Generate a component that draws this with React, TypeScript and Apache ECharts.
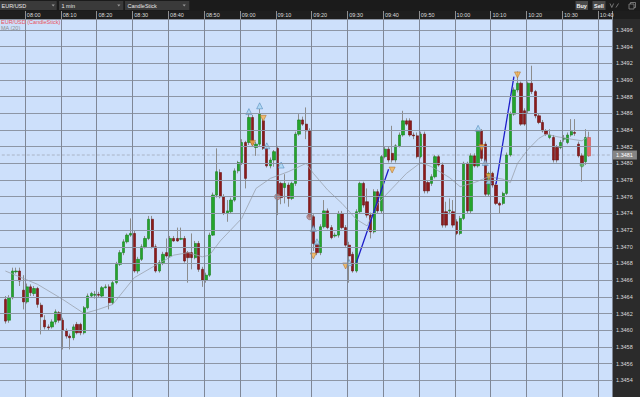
import React, { useEffect, useRef } from 'react';
import * as echarts from 'echarts';

// ---- data ----
const FIRST_CATEGORY = '07:53';
const LAST_CATEGORY = '10:43';
const FIRST_CANDLE = '07:54';
const TIME_TICKS = ['08:00', '08:10', '08:20', '08:30', '08:40', '08:50', '09:00', '09:10', '09:20', '09:30', '09:40', '09:50', '10:00', '10:10', '10:20', '10:30', '10:40'];

const OPEN = [
  1.34637, 1.34612, 1.34639, 1.34670, 1.34671, 1.34648, 1.34634, 1.34652, 1.34644, 1.34650,
  1.34630, 1.34612, 1.34604, 1.34604, 1.34610, 1.34621, 1.34612, 1.34599, 1.34593, 1.34591,
  1.34607, 1.34607, 1.34597, 1.34627, 1.34641, 1.34642, 1.34643, 1.34641, 1.34651, 1.34652,
  1.34633, 1.34657, 1.34679, 1.34693, 1.34706, 1.34714, 1.34716, 1.34671, 1.34685, 1.34700,
  1.34710, 1.34733, 1.34700, 1.34671, 1.34681, 1.34693, 1.34689, 1.34710, 1.34710, 1.34709,
  1.34710, 1.34693, 1.34693, 1.34687, 1.34704, 1.34673, 1.34660, 1.34666, 1.34714, 1.34762,
  1.34789, 1.34760, 1.34740, 1.34742, 1.34756, 1.34791, 1.34801, 1.34825, 1.34825, 1.34855,
  1.34819, 1.34823, 1.34851, 1.34818, 1.34797, 1.34804, 1.34818, 1.34776, 1.34771, 1.34774,
  1.34758, 1.34776, 1.34835, 1.34852, 1.34847, 1.34839, 1.34736, 1.34704, 1.34693, 1.34724,
  1.34743, 1.34723, 1.34713, 1.34714, 1.34740, 1.34723, 1.34702, 1.34691, 1.34671, 1.34742,
  1.34776, 1.34754, 1.34738, 1.34718, 1.34766, 1.34743, 1.34808, 1.34817, 1.34812, 1.34804,
  1.34821, 1.34834, 1.34851, 1.34851, 1.34834, 1.34833, 1.34808, 1.34835, 1.34777, 1.34776,
  1.34784, 1.34808, 1.34798, 1.34742, 1.34743, 1.34742, 1.34730, 1.34716, 1.34734, 1.34800,
  1.34743, 1.34809, 1.34797, 1.34839, 1.34823, 1.34763, 1.34788, 1.34774, 1.34752, 1.34752,
  1.34764, 1.34810, 1.34859, 1.34888, 1.34896, 1.34863, 1.34863, 1.34896, 1.34886, 1.34857,
  1.34849, 1.34839, 1.34831, 1.34831, 1.34819, 1.34819, 1.34829, 1.34825, 1.34834, 1.34837,
  1.34823, 1.34809, 1.34802, 1.34831,
];
const CLOSE = [
  1.34611, 1.34639, 1.34671, 1.34671, 1.34659, 1.34634, 1.34652, 1.34645, 1.34650, 1.34631,
  1.34616, 1.34604, 1.34603, 1.34610, 1.34622, 1.34612, 1.34600, 1.34593, 1.34591, 1.34604,
  1.34597, 1.34597, 1.34627, 1.34641, 1.34644, 1.34643, 1.34642, 1.34651, 1.34652, 1.34633,
  1.34657, 1.34679, 1.34693, 1.34706, 1.34714, 1.34716, 1.34671, 1.34685, 1.34700, 1.34710,
  1.34733, 1.34700, 1.34671, 1.34681, 1.34691, 1.34689, 1.34710, 1.34707, 1.34707, 1.34710,
  1.34683, 1.34687, 1.34687, 1.34704, 1.34673, 1.34660, 1.34666, 1.34714, 1.34762, 1.34790,
  1.34760, 1.34740, 1.34743, 1.34756, 1.34791, 1.34801, 1.34825, 1.34782, 1.34855, 1.34823,
  1.34823, 1.34859, 1.34818, 1.34797, 1.34804, 1.34814, 1.34759, 1.34759, 1.34776, 1.34758,
  1.34776, 1.34835, 1.34852, 1.34847, 1.34839, 1.34736, 1.34704, 1.34693, 1.34724, 1.34743,
  1.34723, 1.34711, 1.34714, 1.34740, 1.34723, 1.34702, 1.34689, 1.34671, 1.34742, 1.34776,
  1.34750, 1.34738, 1.34718, 1.34766, 1.34743, 1.34808, 1.34817, 1.34804, 1.34804, 1.34821,
  1.34834, 1.34851, 1.34847, 1.34834, 1.34833, 1.34808, 1.34835, 1.34767, 1.34767, 1.34784,
  1.34808, 1.34798, 1.34726, 1.34726, 1.34744, 1.34726, 1.34716, 1.34734, 1.34800, 1.34743,
  1.34809, 1.34797, 1.34839, 1.34806, 1.34763, 1.34788, 1.34774, 1.34752, 1.34750, 1.34764,
  1.34810, 1.34859, 1.34888, 1.34896, 1.34847, 1.34847, 1.34896, 1.34886, 1.34857, 1.34849,
  1.34839, 1.34835, 1.34834, 1.34804, 1.34804, 1.34825, 1.34830, 1.34834, 1.34838, 1.34836,
  1.34809, 1.34800, 1.34831, 1.34809,
];
const HIGH = [
  1.34641, 1.34642, 1.34675, 1.34675, 1.34675, 1.34666, 1.34656, 1.34655, 1.34653, 1.34652,
  1.34633, 1.34618, 1.34607, 1.34613, 1.34625, 1.34623, 1.34615, 1.34602, 1.34596, 1.34607,
  1.34610, 1.34609, 1.34629, 1.34644, 1.34646, 1.34647, 1.34646, 1.34653, 1.34655, 1.34655,
  1.34659, 1.34682, 1.34696, 1.34709, 1.34716, 1.34734, 1.34719, 1.34688, 1.34703, 1.34713,
  1.34737, 1.34737, 1.34703, 1.34684, 1.34694, 1.34710, 1.34713, 1.34713, 1.34723, 1.34723,
  1.34713, 1.34695, 1.34716, 1.34707, 1.34707, 1.34676, 1.34669, 1.34717, 1.34765, 1.34818,
  1.34793, 1.34763, 1.34756, 1.34759, 1.34794, 1.34803, 1.34829, 1.34827, 1.34859, 1.34858,
  1.34826, 1.34865, 1.34854, 1.34821, 1.34807, 1.34816, 1.34821, 1.34778, 1.34787, 1.34777,
  1.34778, 1.34838, 1.34859, 1.34856, 1.34867, 1.34842, 1.34739, 1.34707, 1.34727, 1.34756,
  1.34746, 1.34726, 1.34717, 1.34743, 1.34743, 1.34726, 1.34706, 1.34694, 1.34745, 1.34778,
  1.34778, 1.34770, 1.34741, 1.34769, 1.34769, 1.34810, 1.34820, 1.34820, 1.34845, 1.34823,
  1.34837, 1.34863, 1.34854, 1.34854, 1.34837, 1.34837, 1.34838, 1.34838, 1.34779, 1.34787,
  1.34810, 1.34810, 1.34801, 1.34754, 1.34758, 1.34756, 1.34733, 1.34737, 1.34802, 1.34802,
  1.34812, 1.34812, 1.34841, 1.34841, 1.34826, 1.34790, 1.34790, 1.34777, 1.34754, 1.34766,
  1.34813, 1.34862, 1.34891, 1.34910, 1.34898, 1.34866, 1.34898, 1.34917, 1.34888, 1.34859,
  1.34852, 1.34841, 1.34841, 1.34834, 1.34822, 1.34828, 1.34834, 1.34837, 1.34853, 1.34853,
  1.34826, 1.34812, 1.34841, 1.34838,
];
const LOW = [
  1.34608, 1.34609, 1.34637, 1.34668, 1.34653, 1.34625, 1.34632, 1.34641, 1.34641, 1.34627,
  1.34595, 1.34601, 1.34600, 1.34602, 1.34607, 1.34609, 1.34577, 1.34590, 1.34577, 1.34588,
  1.34595, 1.34594, 1.34595, 1.34625, 1.34639, 1.34638, 1.34639, 1.34639, 1.34650, 1.34625,
  1.34631, 1.34655, 1.34677, 1.34690, 1.34704, 1.34712, 1.34669, 1.34668, 1.34683, 1.34698,
  1.34708, 1.34698, 1.34669, 1.34669, 1.34678, 1.34687, 1.34687, 1.34706, 1.34706, 1.34708,
  1.34681, 1.34657, 1.34673, 1.34685, 1.34670, 1.34652, 1.34657, 1.34664, 1.34713, 1.34759,
  1.34758, 1.34738, 1.34730, 1.34740, 1.34754, 1.34788, 1.34798, 1.34770, 1.34822, 1.34821,
  1.34809, 1.34821, 1.34816, 1.34795, 1.34794, 1.34796, 1.34738, 1.34751, 1.34752, 1.34748,
  1.34756, 1.34773, 1.34833, 1.34845, 1.34829, 1.34734, 1.34695, 1.34690, 1.34690, 1.34722,
  1.34721, 1.34709, 1.34711, 1.34711, 1.34721, 1.34700, 1.34657, 1.34669, 1.34669, 1.34740,
  1.34747, 1.34735, 1.34710, 1.34716, 1.34740, 1.34740, 1.34806, 1.34801, 1.34801, 1.34801,
  1.34819, 1.34832, 1.34845, 1.34832, 1.34829, 1.34806, 1.34806, 1.34764, 1.34764, 1.34773,
  1.34782, 1.34796, 1.34723, 1.34723, 1.34739, 1.34723, 1.34714, 1.34714, 1.34732, 1.34740,
  1.34740, 1.34795, 1.34795, 1.34803, 1.34760, 1.34760, 1.34771, 1.34750, 1.34740, 1.34750,
  1.34762, 1.34808, 1.34857, 1.34885, 1.34845, 1.34845, 1.34860, 1.34883, 1.34854, 1.34847,
  1.34837, 1.34833, 1.34829, 1.34801, 1.34801, 1.34817, 1.34826, 1.34823, 1.34832, 1.34833,
  1.34807, 1.34778, 1.34798, 1.34808,
];

const MA_TIMES = ['07:54', '08:03', '08:10', '08:16', '08:20', '08:24', '08:30', '08:36', '08:41', '08:45', '08:49', '08:51', '08:54', '08:58', '09:00', '09:04', '09:08', '09:13', '09:18', '09:20', '09:24', '09:28', '09:32', '09:35', '09:38', '09:42', '09:46', '09:50', '09:53', '09:58', '10:01', '10:05', '10:09', '10:13', '10:15', '10:17', '10:20', '10:23', '10:25', '10:28', '10:32', '10:35', '10:37'];
const MA_VALUES = [1.34671, 1.34655, 1.34637, 1.34620, 1.34625, 1.34631, 1.34663, 1.34678, 1.34690, 1.34693, 1.34688, 1.34690, 1.34707, 1.34725, 1.34734, 1.34770, 1.34782, 1.34790, 1.34800, 1.34788, 1.34768, 1.34752, 1.34733, 1.34725, 1.34752, 1.34770, 1.34788, 1.34801, 1.34796, 1.34783, 1.34772, 1.34777, 1.34784, 1.34781, 1.34777, 1.34800, 1.34817, 1.34830, 1.34835, 1.34832, 1.34829, 1.34827, 1.34833];

const UP_SIGNAL_TIMES = ['09:02', '09:05', '09:07', '09:11', '09:20', '09:21', '09:30', '10:06', '10:08', '10:09'];
const UP_SIGNAL_VALUES = [1.34862, 1.34869, 1.34821, 1.34798, 1.34722, 1.34706, 1.34681, 1.34842, 1.34801, 1.34779];
const DOWN_SIGNAL_TIMES = ['09:03', '09:06', '09:20', '09:29', '09:42', '10:07', '10:09', '10:17'];
const DOWN_SIGNAL_VALUES = [1.34824, 1.34854, 1.34689, 1.34677, 1.34792, 1.34819, 1.34784, 1.34906];
const DOT_TIMES = ['09:10', '09:19'];
const DOT_VALUES = [1.34760, 1.34736];
const GREEN_DOT_TIMES = ['10:35'];
const GREEN_DOT_VALUES = [1.34798];
const TREND_1_TIMES = ['09:32', '09:41'];
const TREND_1_VALUES = [1.34681, 1.34793];
const TREND_2_TIMES = ['10:11', '10:16'];
const TREND_2_VALUES = [1.34775, 1.34904];
const CURRENT_PRICE = 1.3481;

// ---- building ----
const FONT = '"Liberation Sans", Arial, sans-serif';
const pad = (n: number) => String(n).padStart(2, '0');
const toMin = (s: string) => parseInt(s.slice(0, 2), 10) * 60 + parseInt(s.slice(3), 10);
const CATEGORIES: string[] = [];
for (let t = toMin(FIRST_CATEGORY); t <= toMin(LAST_CATEGORY); t++) {
  CATEGORIES.push(`${pad(Math.floor(t / 60))}:${pad(t % 60)}`);
}
const START = CATEGORIES.indexOf(FIRST_CANDLE);
const N = CATEGORIES.length;

const wickData: any[] = [];
const bodyData: any[] = [];
for (let i = 0; i < N; i++) {
  const k = i - START;
  if (k < 0 || k >= OPEN.length) {
    wickData.push('-');
    bodyData.push('-');
    continue;
  }
  const o = OPEN[k], c = CLOSE[k];
  wickData.push([o, c, LOW[k], HIGH[k]]);
  const body: any = { value: [o, c, Math.min(o, c), Math.max(o, c)] };
  if (k === OPEN.length - 1) {
    body.itemStyle = { color: '#e86b6b', color0: '#e86b6b', borderColor: '#c85050', borderColor0: '#c85050' };
  }
  bodyData.push(body);
}
const maData = CATEGORIES.map((t) => {
  const j = MA_TIMES.indexOf(t);
  return j >= 0 ? MA_VALUES[j] : null;
});
const pairs = (ts: string[], vs: number[]) => ts.map((t, i) => [t, vs[i]]);
const isTick = (i: number) => TIME_TICKS.includes(CATEGORIES[i]);

const txt = (text: string, x: number, y: number, fill: string, weight = 'normal', align = 'left') => ({
  type: 'text', x, y, z: 20, silent: true,
  style: { text, fill, font: `${weight} 5.5px ${FONT}`, align, verticalAlign: 'middle' },
});
const arrow = (x: number) => ({
  type: 'polygon', z: 20, silent: true,
  shape: { points: [[x, 4.4], [x + 3.2, 4.4], [x + 1.6, 6.6]] },
  style: { fill: '#9a9a9a' },
});
const box = (x: number, w: number, fill = '#3a3a3a') => ({
  type: 'rect', z: 15, silent: true,
  shape: { x, y: 1, width: w, height: 9 },
  style: { fill },
});

const option: any = {
  animation: false,
  backgroundColor: 'transparent',
  textStyle: { fontFamily: FONT },
  grid: {
    left: -3.2, top: 19, width: 615.6, bottom: -3,
    show: true, backgroundColor: '#cde0fb', borderWidth: 0,
  },
  xAxis: {
    type: 'category',
    data: CATEGORIES,
    position: 'top',
    boundaryGap: true,
    z: 5,
    axisLine: { show: false },
    axisTick: { show: true, interval: isTick, length: 8, lineStyle: { color: '#8f8f8f', width: 1 } },
    axisLabel: { interval: isTick, align: 'left', color: '#dcdcdc', fontSize: 5.5, margin: 1.5, fontFamily: FONT },
    splitLine: { show: true, interval: isTick, lineStyle: { color: '#7f8796', width: 1 } },
  },
  yAxis: {
    type: 'value',
    position: 'right',
    min: 1.3452,
    max: 1.34973,
    interval: 0.0002,
    scale: true,
    z: 5,
    axisLine: { show: false },
    axisTick: { show: false },
    axisLabel: {
      color: '#dcdcdc', fontSize: 5.5, margin: 3.5, fontFamily: FONT,
      showMinLabel: false, showMaxLabel: false,
      formatter: (v: number) => v.toFixed(4),
    },
    splitLine: { show: true, lineStyle: { color: '#8d96a5', width: 1 } },
  },
  graphic: {
    elements: [
      { type: 'rect', z: -1, silent: true, shape: { x: 612.4, y: 19, width: 28, height: 380 }, style: { fill: '#2b2b2b' } },
      { type: 'rect', z: 10, silent: true, shape: { x: 0, y: 0, width: 640, height: 11 }, style: { fill: '#1b1b1b' } },
      box(0, 56.7), txt('EUR/USD', 1.5, 5.6, '#e8e8e8'), arrow(51.6),
      box(59, 64.3), txt('1 min', 61.5, 5.6, '#e8e8e8'), arrow(117.2),
      box(125, 64.3), txt('CandleStick', 127.5, 5.6, '#e8e8e8'), arrow(182.6),
      box(575.5, 12.5, '#4a4a4a'), txt('Buy', 581.7, 5.6, '#f2f2f2', 'bold', 'center'),
      box(592.5, 13, '#4a4a4a'), txt('Sell', 599, 5.6, '#f2f2f2', 'bold', 'center'),
      { type: 'polyline', z: 20, silent: true, shape: { points: [[610, 3.5], [611.8, 7.5], [613.6, 3.5]] }, style: { stroke: '#8a8a8a', lineWidth: 0.8, fill: null } },
      { type: 'line', z: 20, silent: true, shape: { x1: 616, y1: 7.5, x2: 618.5, y2: 3.5 }, style: { stroke: '#8a8a8a', lineWidth: 0.8 } },
      { type: 'rect', z: 20, silent: true, shape: { x: 630.5, y: 2.5, width: 5, height: 5 }, style: { stroke: '#8a8a8a', lineWidth: 0.8, fill: null } },
      { type: 'rect', z: 20, silent: true, shape: { x: 629, y: 4, width: 5, height: 5 }, style: { stroke: '#8a8a8a', lineWidth: 0.8, fill: '#1b1b1b' } },
      txt('EUR/USD (CandleStick)', 1, 22.2, '#e8505a'),
      txt('MA (20)', 1, 28, '#8e8e8e'),
    ],
  },
  series: [
    {
      name: 'current', type: 'line', z: 1,
      data: [[FIRST_CATEGORY, CURRENT_PRICE], [LAST_CATEGORY, CURRENT_PRICE]],
      showSymbol: false, symbol: 'none', clip: false,
      lineStyle: { color: '#aab4c6', type: [3, 2], width: 1 },
      endLabel: {
        show: true, formatter: () => CURRENT_PRICE.toFixed(4), distance: 1.5,
        color: '#ffffff', fontSize: 5.5, fontFamily: FONT, backgroundColor: '#858585', padding: [1.5, 4, 1.5, 4],
      },
    },
    {
      name: 'wick', type: 'candlestick', data: wickData, barWidth: 1,
      itemStyle: { color: '#8c8c8c', color0: '#8c8c8c', borderColor: '#8c8c8c', borderColor0: '#8c8c8c', borderWidth: 1 },
    },
    {
      name: 'EUR/USD', type: 'candlestick', data: bodyData, barWidth: 2.8,
      itemStyle: { color: '#24a52c', color0: '#8d1b1b', borderColor: '#16801d', borderColor0: '#6a1010', borderWidth: 0.6 },
    },
    {
      name: 'MA (20)', type: 'line', data: maData, connectNulls: true, showSymbol: false,
      lineStyle: { color: '#9aa2ad', width: 0.8 },
    },
    {
      name: 'trend1', type: 'line', data: pairs(TREND_1_TIMES, TREND_1_VALUES), showSymbol: false,
      lineStyle: { color: '#1c1cc8', width: 1.3 },
    },
    {
      name: 'trend2', type: 'line', data: pairs(TREND_2_TIMES, TREND_2_VALUES), showSymbol: false,
      lineStyle: { color: '#1c1cc8', width: 1.3 },
    },
    {
      name: 'up', type: 'scatter', data: pairs(UP_SIGNAL_TIMES, UP_SIGNAL_VALUES), symbol: 'triangle', symbolSize: 6,
      itemStyle: { color: '#a9d6f2', borderColor: '#3a78ad', borderWidth: 0.6 },
    },
    {
      name: 'down', type: 'scatter', data: pairs(DOWN_SIGNAL_TIMES, DOWN_SIGNAL_VALUES), symbol: 'triangle', symbolRotate: 180, symbolSize: 6,
      itemStyle: { color: '#f6b24c', borderColor: '#a5631c', borderWidth: 0.6 },
    },
    {
      name: 'dot', type: 'scatter', data: pairs(DOT_TIMES, DOT_VALUES), symbol: 'circle', symbolSize: 6,
      itemStyle: { color: '#b58a8a', borderColor: '#7a4646', borderWidth: 0.6 },
    },
    {
      name: 'gdot', type: 'scatter', data: pairs(GREEN_DOT_TIMES, GREEN_DOT_VALUES), symbol: 'circle', symbolSize: 4,
      itemStyle: { color: '#4caf50', borderColor: '#2e7d32', borderWidth: 0.5 },
    },
  ],
};

export default function App() {
  const ref = useRef<HTMLDivElement>(null);
  useEffect(() => {
    const chart = echarts.init(ref.current as HTMLDivElement, null, { renderer: 'svg' });
    chart.setOption(option);
    return () => chart.dispose();
  }, []);
  return (
    <div
      ref={ref}
      style={{ position: 'fixed', left: 0, top: 0, width: 640, height: 397, background: '#1e1e1e', overflow: 'hidden' }}
    />
  );
}
